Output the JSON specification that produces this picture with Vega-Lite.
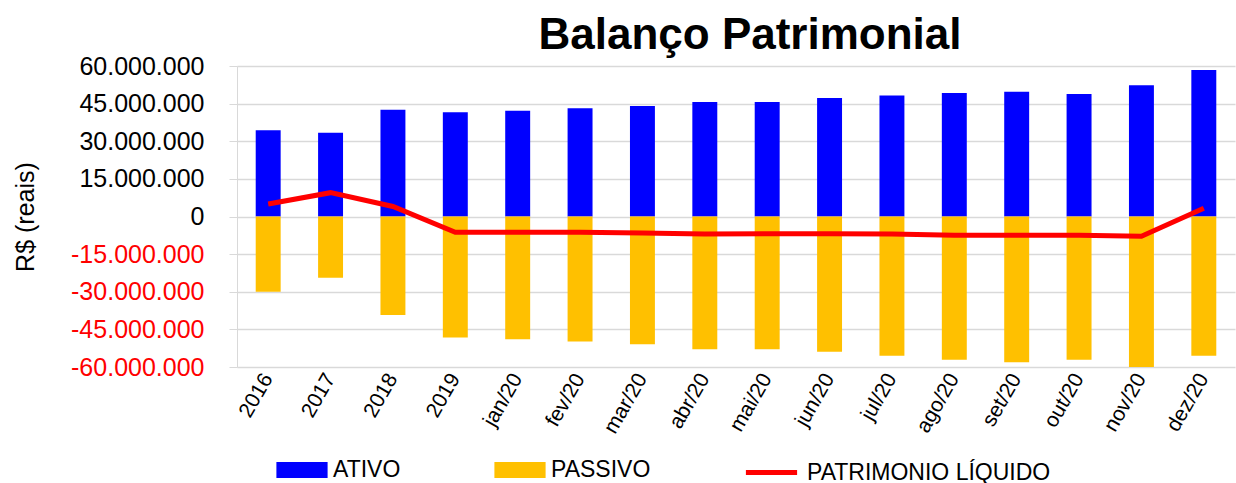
{
  "$schema": "https://vega.github.io/schema/vega-lite/v6.json",
  "width": 998,
  "height": 301,
  "padding": {"left": 13, "top": 14, "right": 5, "bottom": 5},
  "config": {
    "locale": {"number": {"decimal": ",", "thousands": ".", "grouping": [3], "currency": ["R$", ""], "minus": "-"}},
    "font": "Liberation Sans",
    "view": {"stroke": null}
  },
  "title": {"text": "Balanço Patrimonial", "fontSize": 44, "fontWeight": "bold", "font": "Liberation Sans", "color": "#000000", "anchor": "middle", "dx": 14, "offset": -4},
  "data": {"values": [
    {"periodo": "2016", "serie": "ATIVO", "valor": 34400000},
    {"periodo": "2017", "serie": "ATIVO", "valor": 33400000},
    {"periodo": "2018", "serie": "ATIVO", "valor": 42600000},
    {"periodo": "2019", "serie": "ATIVO", "valor": 41600000},
    {"periodo": "jan/20", "serie": "ATIVO", "valor": 42200000},
    {"periodo": "fev/20", "serie": "ATIVO", "valor": 43200000},
    {"periodo": "mar/20", "serie": "ATIVO", "valor": 44100000},
    {"periodo": "abr/20", "serie": "ATIVO", "valor": 45600000},
    {"periodo": "mai/20", "serie": "ATIVO", "valor": 45600000},
    {"periodo": "jun/20", "serie": "ATIVO", "valor": 47200000},
    {"periodo": "jul/20", "serie": "ATIVO", "valor": 48200000},
    {"periodo": "ago/20", "serie": "ATIVO", "valor": 49200000},
    {"periodo": "set/20", "serie": "ATIVO", "valor": 49700000},
    {"periodo": "out/20", "serie": "ATIVO", "valor": 48800000},
    {"periodo": "nov/20", "serie": "ATIVO", "valor": 52300000},
    {"periodo": "dez/20", "serie": "ATIVO", "valor": 58400000},
    {"periodo": "2016", "serie": "PASSIVO", "valor": -30000000},
    {"periodo": "2017", "serie": "PASSIVO", "valor": -24400000},
    {"periodo": "2018", "serie": "PASSIVO", "valor": -39300000},
    {"periodo": "2019", "serie": "PASSIVO", "valor": -48200000},
    {"periodo": "jan/20", "serie": "PASSIVO", "valor": -48900000},
    {"periodo": "fev/20", "serie": "PASSIVO", "valor": -49800000},
    {"periodo": "mar/20", "serie": "PASSIVO", "valor": -50900000},
    {"periodo": "abr/20", "serie": "PASSIVO", "valor": -52900000},
    {"periodo": "mai/20", "serie": "PASSIVO", "valor": -52900000},
    {"periodo": "jun/20", "serie": "PASSIVO", "valor": -53900000},
    {"periodo": "jul/20", "serie": "PASSIVO", "valor": -55500000},
    {"periodo": "ago/20", "serie": "PASSIVO", "valor": -57100000},
    {"periodo": "set/20", "serie": "PASSIVO", "valor": -58100000},
    {"periodo": "out/20", "serie": "PASSIVO", "valor": -57100000},
    {"periodo": "nov/20", "serie": "PASSIVO", "valor": -60000000},
    {"periodo": "dez/20", "serie": "PASSIVO", "valor": -55500000},
    {"periodo": "2016", "serie": "PATRIMONIO LÍQUIDO", "valor": 5000000},
    {"periodo": "2017", "serie": "PATRIMONIO LÍQUIDO", "valor": 9500000},
    {"periodo": "2018", "serie": "PATRIMONIO LÍQUIDO", "valor": 4000000},
    {"periodo": "2019", "serie": "PATRIMONIO LÍQUIDO", "valor": -6300000},
    {"periodo": "jan/20", "serie": "PATRIMONIO LÍQUIDO", "valor": -6300000},
    {"periodo": "fev/20", "serie": "PATRIMONIO LÍQUIDO", "valor": -6300000},
    {"periodo": "mar/20", "serie": "PATRIMONIO LÍQUIDO", "valor": -6600000},
    {"periodo": "abr/20", "serie": "PATRIMONIO LÍQUIDO", "valor": -7000000},
    {"periodo": "mai/20", "serie": "PATRIMONIO LÍQUIDO", "valor": -6900000},
    {"periodo": "jun/20", "serie": "PATRIMONIO LÍQUIDO", "valor": -6900000},
    {"periodo": "jul/20", "serie": "PATRIMONIO LÍQUIDO", "valor": -7000000},
    {"periodo": "ago/20", "serie": "PATRIMONIO LÍQUIDO", "valor": -7500000},
    {"periodo": "set/20", "serie": "PATRIMONIO LÍQUIDO", "valor": -7500000},
    {"periodo": "out/20", "serie": "PATRIMONIO LÍQUIDO", "valor": -7500000},
    {"periodo": "nov/20", "serie": "PATRIMONIO LÍQUIDO", "valor": -7900000},
    {"periodo": "dez/20", "serie": "PATRIMONIO LÍQUIDO", "valor": 3300000}
  ]},
  "encoding": {
    "x": {
      "field": "periodo", "type": "ordinal",
      "sort": ["2016","2017","2018","2019","jan/20","fev/20","mar/20","abr/20","mai/20","jun/20","jul/20","ago/20","set/20","out/20","nov/20","dez/20"],
      "scale": {"paddingInner": 0.6, "paddingOuter": 0.3},
      "axis": {"title": null, "labelAngle": -60, "labelFontSize": 21, "labelColor": "#000000", "domain": false, "ticks": false, "labelPadding": 8}
    },
    "y": {
      "field": "valor", "type": "quantitative",
      "scale": {"domain": [-60000000, 60000000], "nice": false},
      "axis": {
        "title": "R$ (reais)", "titleFontSize": 25, "titleFontWeight": "normal", "titleColor": "#000000", "titlePadding": 32,
        "values": [-60000000, -45000000, -30000000, -15000000, 0, 15000000, 30000000, 45000000, 60000000],
        "format": ",.0f", "labelFontSize": 25,
        "labelColor": {"expr": "datum.value < 0 ? '#FF0000' : '#000000'"},
        "labelPadding": 25, "tickSize": 8, "tickColor": "#D9D9D9", "domainColor": "#D9D9D9", "gridColor": "#D9D9D9", "gridWidth": 1.5
      }
    }
  },
  "layer": [
    {
      "transform": [{"filter": "datum.serie !== 'PATRIMONIO LÍQUIDO'"}],
      "mark": {"type": "bar"},
      "encoding": {
        "y": {"field": "valor", "type": "quantitative", "stack": null},
        "color": {
          "field": "serie", "type": "nominal",
          "scale": {"domain": ["ATIVO", "PASSIVO"], "range": ["#0000FF", "#FFC000"]},
          "legend": {"title": null, "orient": "none", "legendX": 49, "legendY": 388, "direction": "horizontal",
            "symbolType": "M-1.6,-0.5H1.6V0.5H-1.6Z", "symbolSize": 1024, "symbolStrokeWidth": 0,
            "labelFontSize": 23, "labelColor": "#000000", "columnPadding": 93, "labelOffset": 15, "labelLimit": 400}
        }
      }
    },
    {
      "transform": [{"filter": "datum.serie === 'PATRIMONIO LÍQUIDO'"}],
      "mark": {"type": "line", "strokeWidth": 5},
      "encoding": {
        "color": {
          "field": "serie", "type": "nominal",
          "scale": {"domain": ["PATRIMONIO LÍQUIDO"], "range": ["#FF0000"]},
          "legend": {"title": null, "orient": "none", "legendX": 516, "legendY": 388, "direction": "horizontal",
            "symbolType": "M-1.6,0H1.6", "symbolSize": 1024, "symbolStrokeWidth": 5,
            "labelFontSize": 23, "labelColor": "#000000", "labelOffset": 17, "labelLimit": 400}
        }
      }
    }
  ],
  "resolve": {"scale": {"color": "independent"}}
}
